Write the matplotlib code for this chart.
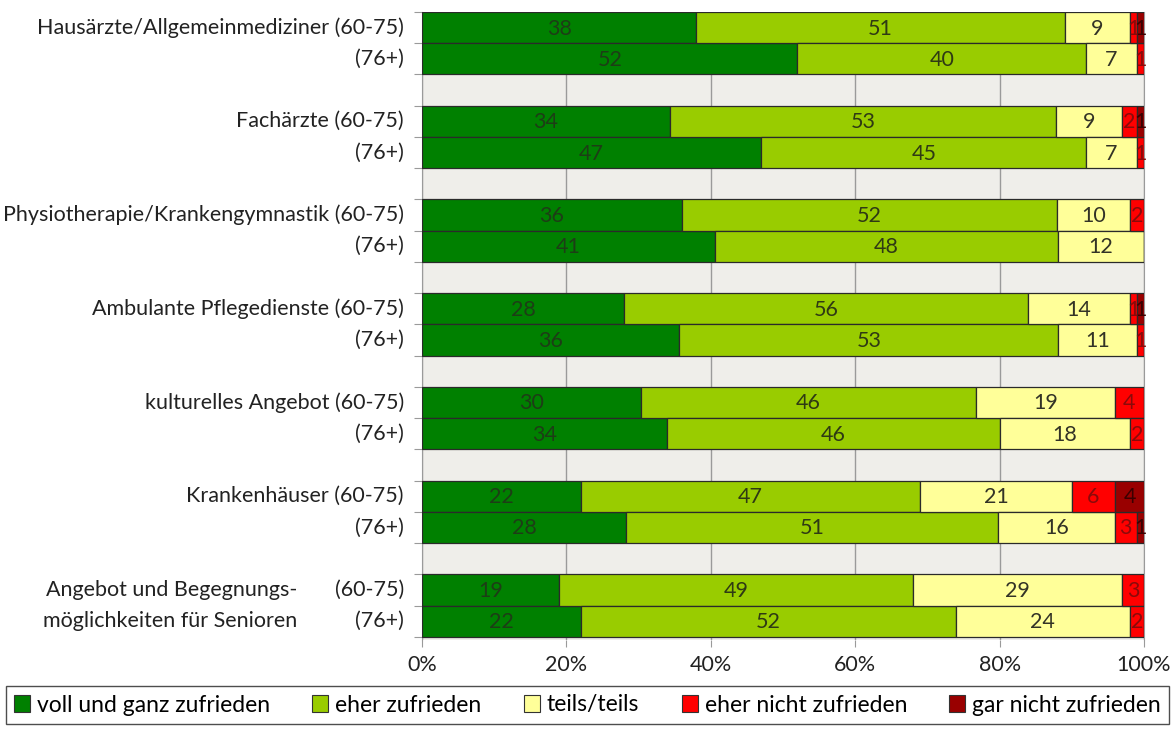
import matplotlib
matplotlib.use("Agg")
import matplotlib.pyplot as plt
from matplotlib.patches import Patch
import numpy as np

plt.rcParams['font.family'] = ['Lato', 'DejaVu Sans']

groups = [
    "Hausärzte/Allgemeinmediziner",
    "Fachärzte",
    "Physiotherapie/Krankengymnastik",
    "Ambulante Pflegedienste",
    "kulturelles Angebot",
    "Krankenhäuser",
    "Angebot und Begegnungs-\nmöglichkeiten für Senioren",
]
ages = ["(60-75)", "(76+)"]

series = ["voll und ganz zufrieden", "eher zufrieden", "teils/teils",
          "eher nicht zufrieden", "gar nicht zufrieden"]

# rows: group x age, in series order
voll = [38, 52, 34, 47, 36, 41, 28, 36, 30, 34, 22, 28, 19, 22]
eher = [51, 40, 53, 45, 52, 48, 56, 53, 46, 46, 47, 51, 49, 52]
teils = [9, 7, 9, 7, 10, 12, 14, 11, 19, 18, 21, 16, 29, 24]
eher_nicht = [1, 1, 2, 1, 2, 0, 1, 1, 4, 2, 6, 3, 3, 2]
gar_nicht = [1, 0, 1, 0, 0, 0, 1, 0, 0, 0, 4, 1, 0, 0]

colors = ["#008000", "#99CC00", "#FFFF99", "#FF0000", "#990000"]
text_colors = ["#1d3d16", "#2f3a14", "#333326", "#8a0a0a", "#3a0000"]

data = np.array([voll, eher, teils, eher_nicht, gar_nicht], dtype=float)
shares = data / data.sum(axis=0) * 100

# slot positions: two bars then one empty slot per group
ypos = []
for g in range(len(groups)):
    ypos += [3 * g, 3 * g + 1]
ypos = np.array(ypos)

fig = plt.figure(figsize=(11.76, 7.49), dpi=100)
ax = fig.add_axes([422 / 1176, 1 - 640 / 749, (1144 - 422) / 1176, (640 - 12) / 749])
ax.set_facecolor("#EFEEEA")

FS = 15.5

left = np.zeros(len(ypos))
for i in range(len(series)):
    ax.barh(ypos, shares[i], left=left, height=1.0, color=colors[i],
            edgecolor="#2a2a2a", linewidth=0.9, zorder=3)
    for j, y in enumerate(ypos):
        if data[i, j] > 0:
            ax.text(left[j] + shares[i, j] / 2, y + 0.03, f"{int(data[i, j])}",
                    ha="center", va="center", fontsize=FS,
                    color=text_colors[i], zorder=4)
    left += shares[i]

ax.set_xlim(0, 100)
ax.set_ylim(19.6, -0.5)
ax.set_xticks([0, 20, 40, 60, 80, 100])
ax.set_xticklabels(["0%", "20%", "40%", "60%", "80%", "100%"], fontsize=FS, color="#222222")
ax.tick_params(axis="x", length=5, color="#9a9a9a", pad=6)
ax.xaxis.grid(True, color="#9a9a9a", linewidth=1.0, zorder=1)
ax.set_axisbelow(True)

ax.set_yticks(np.arange(-0.5, 20, 1.0))
ax.set_yticklabels([])
ax.tick_params(axis="y", length=6, color="#9a9a9a")
ax.spines["top"].set_visible(False)
ax.spines["bottom"].set_visible(False)
for s in ["left", "right"]:
    ax.spines[s].set_color("#9a9a9a")

# category labels
lab_kw = dict(fontsize=FS, color="#222222", va="center", transform=ax.get_yaxis_transform())
for g, name in enumerate(groups):
    if "\n" in name:
        first, second = name.split("\n")
        ax.text(-0.173, 3 * g, first, ha="right", **lab_kw)
        ax.text(-0.173, 3 * g + 1, second, ha="right", **lab_kw)
        ax.text(-0.025, 3 * g, ages[0], ha="right", **lab_kw)
    else:
        ax.text(-0.025, 3 * g, f"{name} {ages[0]}", ha="right", **lab_kw)
    ax.text(-0.025, 3 * g + 1, ages[1], ha="right", **lab_kw)

handles = [Patch(facecolor=c, edgecolor="#333333", linewidth=0.8) for c in colors]
leg = fig.legend(handles, series, loc="center", bbox_to_anchor=(587.5 / 1176, 1 - 705 / 749),
                 ncol=5, fontsize=16.5, frameon=True, fancybox=False,
                 handlelength=0.7, handleheight=0.7, handletextpad=0.3,
                 columnspacing=1.85, borderpad=0.35, borderaxespad=0)
leg.get_frame().set_edgecolor("#222222")
leg.get_frame().set_linewidth(1.0)

fig.savefig("out.png", dpi=100, facecolor="white")
